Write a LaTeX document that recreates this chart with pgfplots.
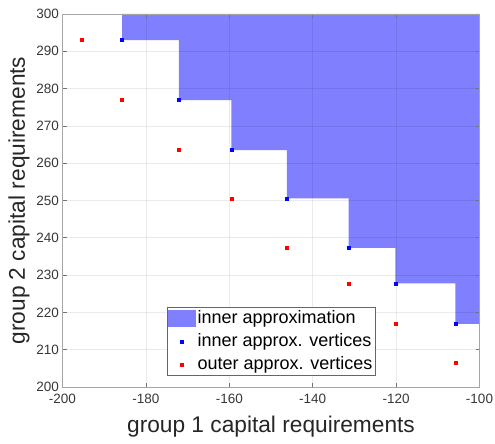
\documentclass[border=0pt]{standalone}
\usepackage{pgfplots}
\pgfplotsset{compat=1.18}
\usepackage{fontspec}
\setmainfont{Liberation Sans}
\begin{document}
\begin{tikzpicture}
\useasboundingbox (-62.5bp,-57bp) rectangle (432.5bp,387bp);
\begin{axis}[
  at={(0,0)}, anchor=south west,
  width=417bp, height=373bp, scale only axis,
  xmin=-200, xmax=-100, ymin=200, ymax=300,
  xtick={-200,-180,-160,-140,-120,-100},
  ytick={200,210,220,230,240,250,260,270,280,290,300},
  grid=major, axis on top,
  major grid style={black, opacity=0.08, line width=0.6bp},
  axis line style={black!35, line width=0.9bp},
  tick align=inside, major tick length=4bp,
  tick style={black!55, line width=0.6bp},
  /pgf/number format/assume math mode=true,
  /pgf/number format/1000 sep={},
  tick label style={font=\fontsize{13.5bp}{14bp}\selectfont, text=black!78},
  xticklabel style={yshift=-4bp},
  xlabel={group 1 capital requirements},
  ylabel={group 2 capital requirements},
  xlabel style={at={(axis description cs:0.5,-0.1072)}, anchor=center, font=\fontsize{22.7bp}{24bp}\selectfont, text=black!85},
  ylabel style={at={(axis description cs:-0.1043,0.5)}, anchor=center, font=\fontsize{22.7bp}{24bp}\selectfont, text=black!85},
  legend style={at={(0.25,0.2137)}, anchor=north west, draw=black!60, line width=0.6bp,
    font=\fontsize{18bp}{18bp}\selectfont, fill=white,
    inner xsep=1bp, inner ysep=1bp, row sep=3bp,
    nodes={text height=13bp, text depth=4bp, inner sep=1.5bp}},
  legend cell align=left,
  clip=true,
]
\addplot[fill=blue!50, draw=none,
  legend image code/.code={\fill[blue!50] (0bp,-8.5bp) rectangle (28bp,8.5bp);}]
  table {
x y
-185.7 300
-185.7 293.0
-172.1 293.0
-172.1 276.9
-159.5 276.9
-159.5 263.5
-146.2 263.5
-146.2 250.6
-131.4 250.6
-131.4 237.3
-120.2 237.3
-120.2 227.8
-105.8 227.8
-105.8 216.9
-100 216.9
-100 300
};
\addlegendentry{inner approximation}
\addplot[only marks, mark=square*, mark size=1.5bp, color=blue,
  legend image code/.code={\draw[only marks, mark=square*, mark size=1.5bp, blue] plot coordinates {(14bp,0bp)};}]
  table {
x y
-185.7 293.0
-172.1 276.9
-159.5 263.5
-146.2 250.6
-131.4 237.3
-120.2 227.8
-105.8 216.9
};
\addlegendentry{inner approx. vertices}
\addplot[only marks, mark=square*, mark size=1.5bp, color=red,
  legend image code/.code={\draw[only marks, mark=square*, mark size=1.5bp, red] plot coordinates {(14bp,0bp)};}]
  table {
x y
-195.5 293.0
-185.7 276.9
-172.1 263.5
-159.5 250.6
-146.2 237.3
-131.4 227.8
-120.2 216.9
-105.8 206.5
};
\addlegendentry{outer approx. vertices}
\end{axis}
\end{tikzpicture}
\end{document}
